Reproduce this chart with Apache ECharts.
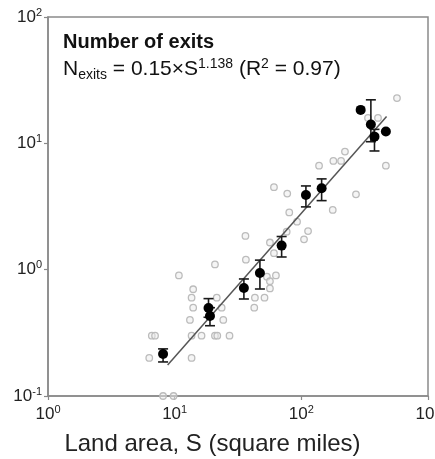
<!DOCTYPE html>
<html>
<head>
<meta charset="utf-8">
<script src="https://cdn.jsdelivr.net/npm/echarts@6/dist/echarts.min.js"></script>
<style>
html,body{margin:0;padding:0;background:#fff;}
#chart{width:435px;height:459px;}
</style>
</head>
<body>
<div id="chart"></div>
<script>
// Gray points: individual observations
const grayS = [8.1, 9.8, 6.3, 13.6, 6.6, 7.0, 13.6, 16.3, 20.8, 21.7, 27.1, 13.2, 24.2, 14.0, 23.5, 13.6, 21.5, 14.0, 10.8, 20.8, 36.2, 36.5, 42.5, 43.0, 51.2, 53.5, 56.5, 63.0, 56.5, 60.8, 56.5, 76.6, 80.3, 92.5, 105, 113, 60.8, 77.4, 270, 177, 138, 179, 206, 221, 465, 569, 336, 403];
const grayN = [0.1, 0.1, 0.2, 0.2, 0.3, 0.3, 0.3, 0.3, 0.3, 0.3, 0.3, 0.4, 0.4, 0.5, 0.5, 0.6, 0.6, 0.7, 0.9, 1.1, 1.85, 1.2, 0.5, 0.6, 0.6, 0.88, 0.81, 0.9, 0.71, 1.35, 1.64, 2.0, 2.84, 2.4, 1.74, 2.02, 4.5, 4.0, 3.95, 2.97, 6.66, 7.26, 7.26, 8.6, 6.66, 22.8, 15.9, 15.9];

// Black points: binned means with error bars
const meanS = [8.1, 18.5, 19.0, 35.2, 47.1, 69.9, 108.7, 144.6, 294, 354, 378, 465];
const meanN = [0.215, 0.497, 0.43, 0.716, 0.94, 1.55, 3.9, 4.41, 18.4, 14.1, 11.3, 12.4];
const errLow = [0.186, 0.42, 0.36, 0.586, 0.703, 1.26, 3.14, 3.52, null, 10.3, 8.7, null];
const errHigh = [0.236, 0.59, 0.5, 0.844, 1.19, 1.83, 4.6, 5.23, null, 22.1, 12.9, null];

// Fitted power-law line endpoints
const lineS = [8.8, 471];
const lineN = [0.176, 16.3];

// Axis ranges / tick labels
const xMin = 1, xMax = 1000;
const yMin = 0.1, yMax = 100;

const FONT = '"Liberation Sans", Arial, sans-serif';

const grayData = grayS.map((s, i) => [s, grayN[i]]);
const meanData = meanS.map((s, i) => [s, meanN[i]]);
const errData = [];
meanS.forEach((s, i) => { if (errLow[i] != null) errData.push([s, errLow[i], errHigh[i]]); });
const lineData = lineS.map((s, i) => [s, lineN[i]]);

function expLabel(v) {
  const e = Math.round(Math.log10(v));
  return '{b|10}{s|' + e + '}';
}
const labelRich = {
  b: { fontSize: 17, fontFamily: FONT, color: '#222', lineHeight: 20 },
  s: { fontSize: 11, fontFamily: FONT, color: '#222', lineHeight: 12, verticalAlign: 'top' }
};

const chart = echarts.init(document.getElementById('chart'), null, { renderer: 'canvas' });
chart.setOption({
  animation: false,
  backgroundColor: '#fff',
  grid: { left: 48, top: 17, width: 380, height: 379, containLabel: false, outerBoundsMode: 'none',
          show: true, borderColor: '#8a8a8a', borderWidth: 1.5, backgroundColor: 'transparent' },
  xAxis: {
    type: 'log', logBase: 10, min: xMin, max: xMax,
    splitLine: { show: false },
    axisLine: { show: true, lineStyle: { color: '#8a8a8a', width: 1.5 } },
    axisTick: { show: true, length: 4, lineStyle: { color: '#8a8a8a', width: 1.2 } },
    minorTick: { show: false },
    axisLabel: { formatter: expLabel, rich: labelRich, margin: 8 }
  },
  yAxis: {
    type: 'log', logBase: 10, min: yMin, max: yMax,
    splitLine: { show: false },
    axisLine: { show: true, lineStyle: { color: '#8a8a8a', width: 1.5 } },
    axisTick: { show: true, length: 4, lineStyle: { color: '#8a8a8a', width: 1.2 } },
    minorTick: { show: false },
    axisLabel: { formatter: expLabel, rich: labelRich, margin: 6 }
  },
  series: [
    {
      type: 'scatter', data: grayData, symbol: 'circle', symbolSize: 6.5, clip: false,
      itemStyle: { color: 'rgba(235,235,235,0.5)', borderColor: '#bcbcbc', borderWidth: 1.3, opacity: 1 },
      z: 1
    },
    {
      type: 'line', data: lineData, symbol: 'none',
      lineStyle: { color: '#555', width: 1.5 }, z: 2
    },
    {
      type: 'custom', data: errData, z: 3,
      encode: { x: 0, y: [1, 2] },
      renderItem: function (params, api) {
        const s = api.value(0);
        const top = api.coord([s, api.value(2)]);
        const bot = api.coord([s, api.value(1)]);
        const hw = 5;
        const st = { stroke: '#1a1a1a', lineWidth: 1.6 };
        return {
          type: 'group',
          children: [
            { type: 'line', shape: { x1: top[0], y1: top[1], x2: bot[0], y2: bot[1] }, style: st },
            { type: 'line', shape: { x1: top[0] - hw, y1: top[1], x2: top[0] + hw, y2: top[1] }, style: st },
            { type: 'line', shape: { x1: bot[0] - hw, y1: bot[1], x2: bot[0] + hw, y2: bot[1] }, style: st }
          ]
        };
      }
    },
    {
      type: 'scatter', data: meanData, symbol: 'circle', symbolSize: 10,
      itemStyle: { color: '#000', opacity: 1 }, z: 4
    }
  ],
  graphic: [
    {
      type: 'text', left: 63, top: 32,
      style: { text: 'Number of exits', font: 'bold 20px ' + FONT, fill: '#111' }
    },
    {
      type: 'text', left: 63, top: 57,
      style: {
        text: '{n|N}{sub|exits}{n| = 0.15×S}{sup|1.138}{n| (R}{sup|2}{n| = 0.97)}',
        rich: {
          n: { fontSize: 21, fontFamily: FONT, fill: '#111', lineHeight: 25 },
          sub: { fontSize: 14, fontFamily: FONT, fill: '#111', lineHeight: 12, verticalAlign: 'bottom' },
          sup: { fontSize: 14, fontFamily: FONT, fill: '#111', lineHeight: 14, verticalAlign: 'top' }
        }
      }
    },
    {
      type: 'text', x: 212.5, y: 444,
      style: { text: 'Land area, S (square miles)', font: '24px ' + FONT, fill: '#222', textAlign: 'center', textVerticalAlign: 'middle' }
    }
  ]
});
</script>
</body>
</html>
